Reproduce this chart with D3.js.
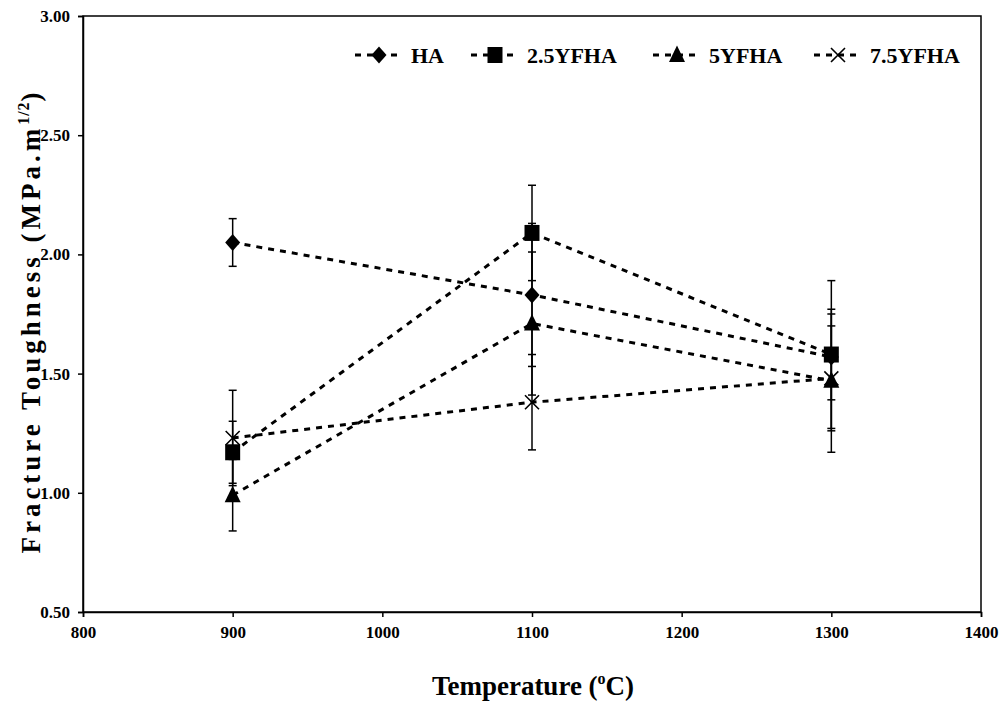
<!DOCTYPE html>
<html>
<head>
<meta charset="utf-8">
<script src="https://cdn.jsdelivr.net/npm/d3@7"></script>
<style>
  html, body { margin: 0; padding: 0; background: #fff; }
  svg { display: block; }
  text { font-family: "Liberation Serif", "Times New Roman", serif; font-weight: bold; fill: #000; }
</style>
</head>
<body>
<svg id="chart" width="1001" height="705"></svg>
<script>
// ---- data ----
const temperatures = [900, 1100, 1300];
const seriesNames = ["HA", "2.5YFHA", "5YFHA", "7.5YFHA"];
const markerTypes = ["diamond", "square", "triangle", "cross"];
const valuesHA   = [2.05, 1.83, 1.57];
const values25   = [1.17, 2.09, 1.58];
const values5    = [0.99, 1.71, 1.47];
const values75   = [1.23, 1.38, 1.48];
const errorsHA   = [0.10, 0.30, 0.18];
const errors25   = [0.13, 0.20, 0.31];
const errors5    = [0.15, 0.30, 0.30];
const errors75   = [0.20, 0.20, 0.22];
const xTicks = [800, 900, 1000, 1100, 1200, 1300, 1400];
const yTicks = [0.50, 1.00, 1.50, 2.00, 2.50, 3.00];

const seriesValues = [valuesHA, values25, values5, values75];
const seriesErrors = [errorsHA, errors25, errors5, errors75];

// ---- layout ----
const svg = d3.select("#chart");
const L = 83, R = 981, T = 16, B = 612;
const x = d3.scaleLinear().domain([800, 1400]).range([L, R]);
const y = d3.scaleLinear().domain([0.5, 3.0]).range([B, T]);

// plot border
svg.append("rect").attr("x", L).attr("y", T).attr("width", R - L).attr("height", B - T)
  .attr("fill", "none").attr("stroke", "#000").attr("stroke-width", 1.5);

// axes
const yAxis = svg.append("g").attr("transform", `translate(${L},0)`)
  .call(d3.axisLeft(y).tickValues(yTicks).tickFormat(d3.format(".2f")).tickSize(5).tickPadding(8));
const xAxis = svg.append("g").attr("transform", `translate(0,${B})`)
  .call(d3.axisBottom(x).tickValues(xTicks).tickFormat(d3.format("d")).tickSize(5).tickPadding(9));
[yAxis, xAxis].forEach(g => {
  g.select(".domain").attr("stroke", "#000").attr("stroke-width", 1.5);
  g.selectAll(".tick line").attr("stroke", "#000").attr("stroke-width", 1.5);
  g.selectAll(".tick text").style("font-family", '"Liberation Serif", "Times New Roman", serif')
    .style("font-weight", "bold").style("font-size", "17px").attr("fill", "#000");
});

// marker drawing
function drawMarker(g, type, cx, cy) {
  let d;
  if (type === "diamond") {
    d = `M${cx},${cy - 8.5}L${cx + 7.5},${cy}L${cx},${cy + 8.5}L${cx - 7.5},${cy}Z`;
  } else if (type === "square") {
    d = `M${cx - 7.5},${cy - 8}H${cx + 7.5}V${cy + 8}H${cx - 7.5}Z`;
  } else if (type === "triangle") {
    d = `M${cx},${cy - 9.5}L${cx + 8},${cy + 7}L${cx - 8},${cy + 7}Z`;
  }
  if (type === "cross") {
    const s = 7;
    g.append("path").attr("d", `M${cx - s},${cy - s}L${cx + s},${cy + s}M${cx - s},${cy + s}L${cx + s},${cy - s}`)
      .attr("stroke", "#000").attr("stroke-width", 1.6).attr("fill", "none");
  } else {
    g.append("path").attr("d", d).attr("fill", "#000");
  }
}

const plot = svg.append("g");
const lineGen = d3.line().x((d, i) => x(temperatures[i])).y(d => y(d));

seriesValues.forEach((vals, si) => {
  const g = plot.append("g");
  // error bars
  vals.forEach((v, i) => {
    const e = seriesErrors[si][i];
    const cx = x(temperatures[i]);
    g.append("line").attr("x1", cx).attr("x2", cx).attr("y1", y(v + e)).attr("y2", y(v - e))
      .attr("stroke", "#000").attr("stroke-width", 1.5);
    [v + e, v - e].forEach(w => {
      g.append("line").attr("x1", cx - 4).attr("x2", cx + 4).attr("y1", y(w)).attr("y2", y(w))
        .attr("stroke", "#000").attr("stroke-width", 1.5);
    });
  });
  // dashed line
  g.append("path").datum(vals).attr("d", lineGen).attr("fill", "none")
    .attr("stroke", "#000").attr("stroke-width", 3).attr("stroke-dasharray", "6,6");
  // markers
  vals.forEach((v, i) => drawMarker(g, markerTypes[si], x(temperatures[i]), y(v)));
});

// legend
const legendX = [379, 495, 677, 838];
const legendY = 55;
seriesNames.forEach((name, i) => {
  const g = svg.append("g");
  const cx = legendX[i];
  g.append("line").attr("x1", cx - 24).attr("x2", cx + 24).attr("y1", legendY).attr("y2", legendY)
    .attr("stroke", "#000").attr("stroke-width", 3).attr("stroke-dasharray", "6,6");
  drawMarker(g, markerTypes[i], cx, legendY);
  g.append("text").attr("x", cx + 32).attr("y", legendY + 8).style("font-size", "22px").text(name);
});

// axis titles
const xt = svg.append("text").attr("x", 533).attr("y", 695).attr("text-anchor", "middle").style("font-size", "27px");
xt.append("tspan").text("Temperature (");
xt.append("tspan").attr("dy", -11).style("font-size", "16px").text("o");
xt.append("tspan").attr("dy", 11).text("C)");

const yt = svg.append("text").attr("transform", "translate(40,321) rotate(-90)")
  .attr("text-anchor", "middle").style("font-size", "27px").style("letter-spacing", "4px");
yt.append("tspan").text("Fracture Toughness (MPa.m");
yt.append("tspan").attr("dy", -11).style("font-size", "16px").style("letter-spacing", "1px").text("1/2");
yt.append("tspan").attr("dy", 11).text(")");
</script>
</body>
</html>
